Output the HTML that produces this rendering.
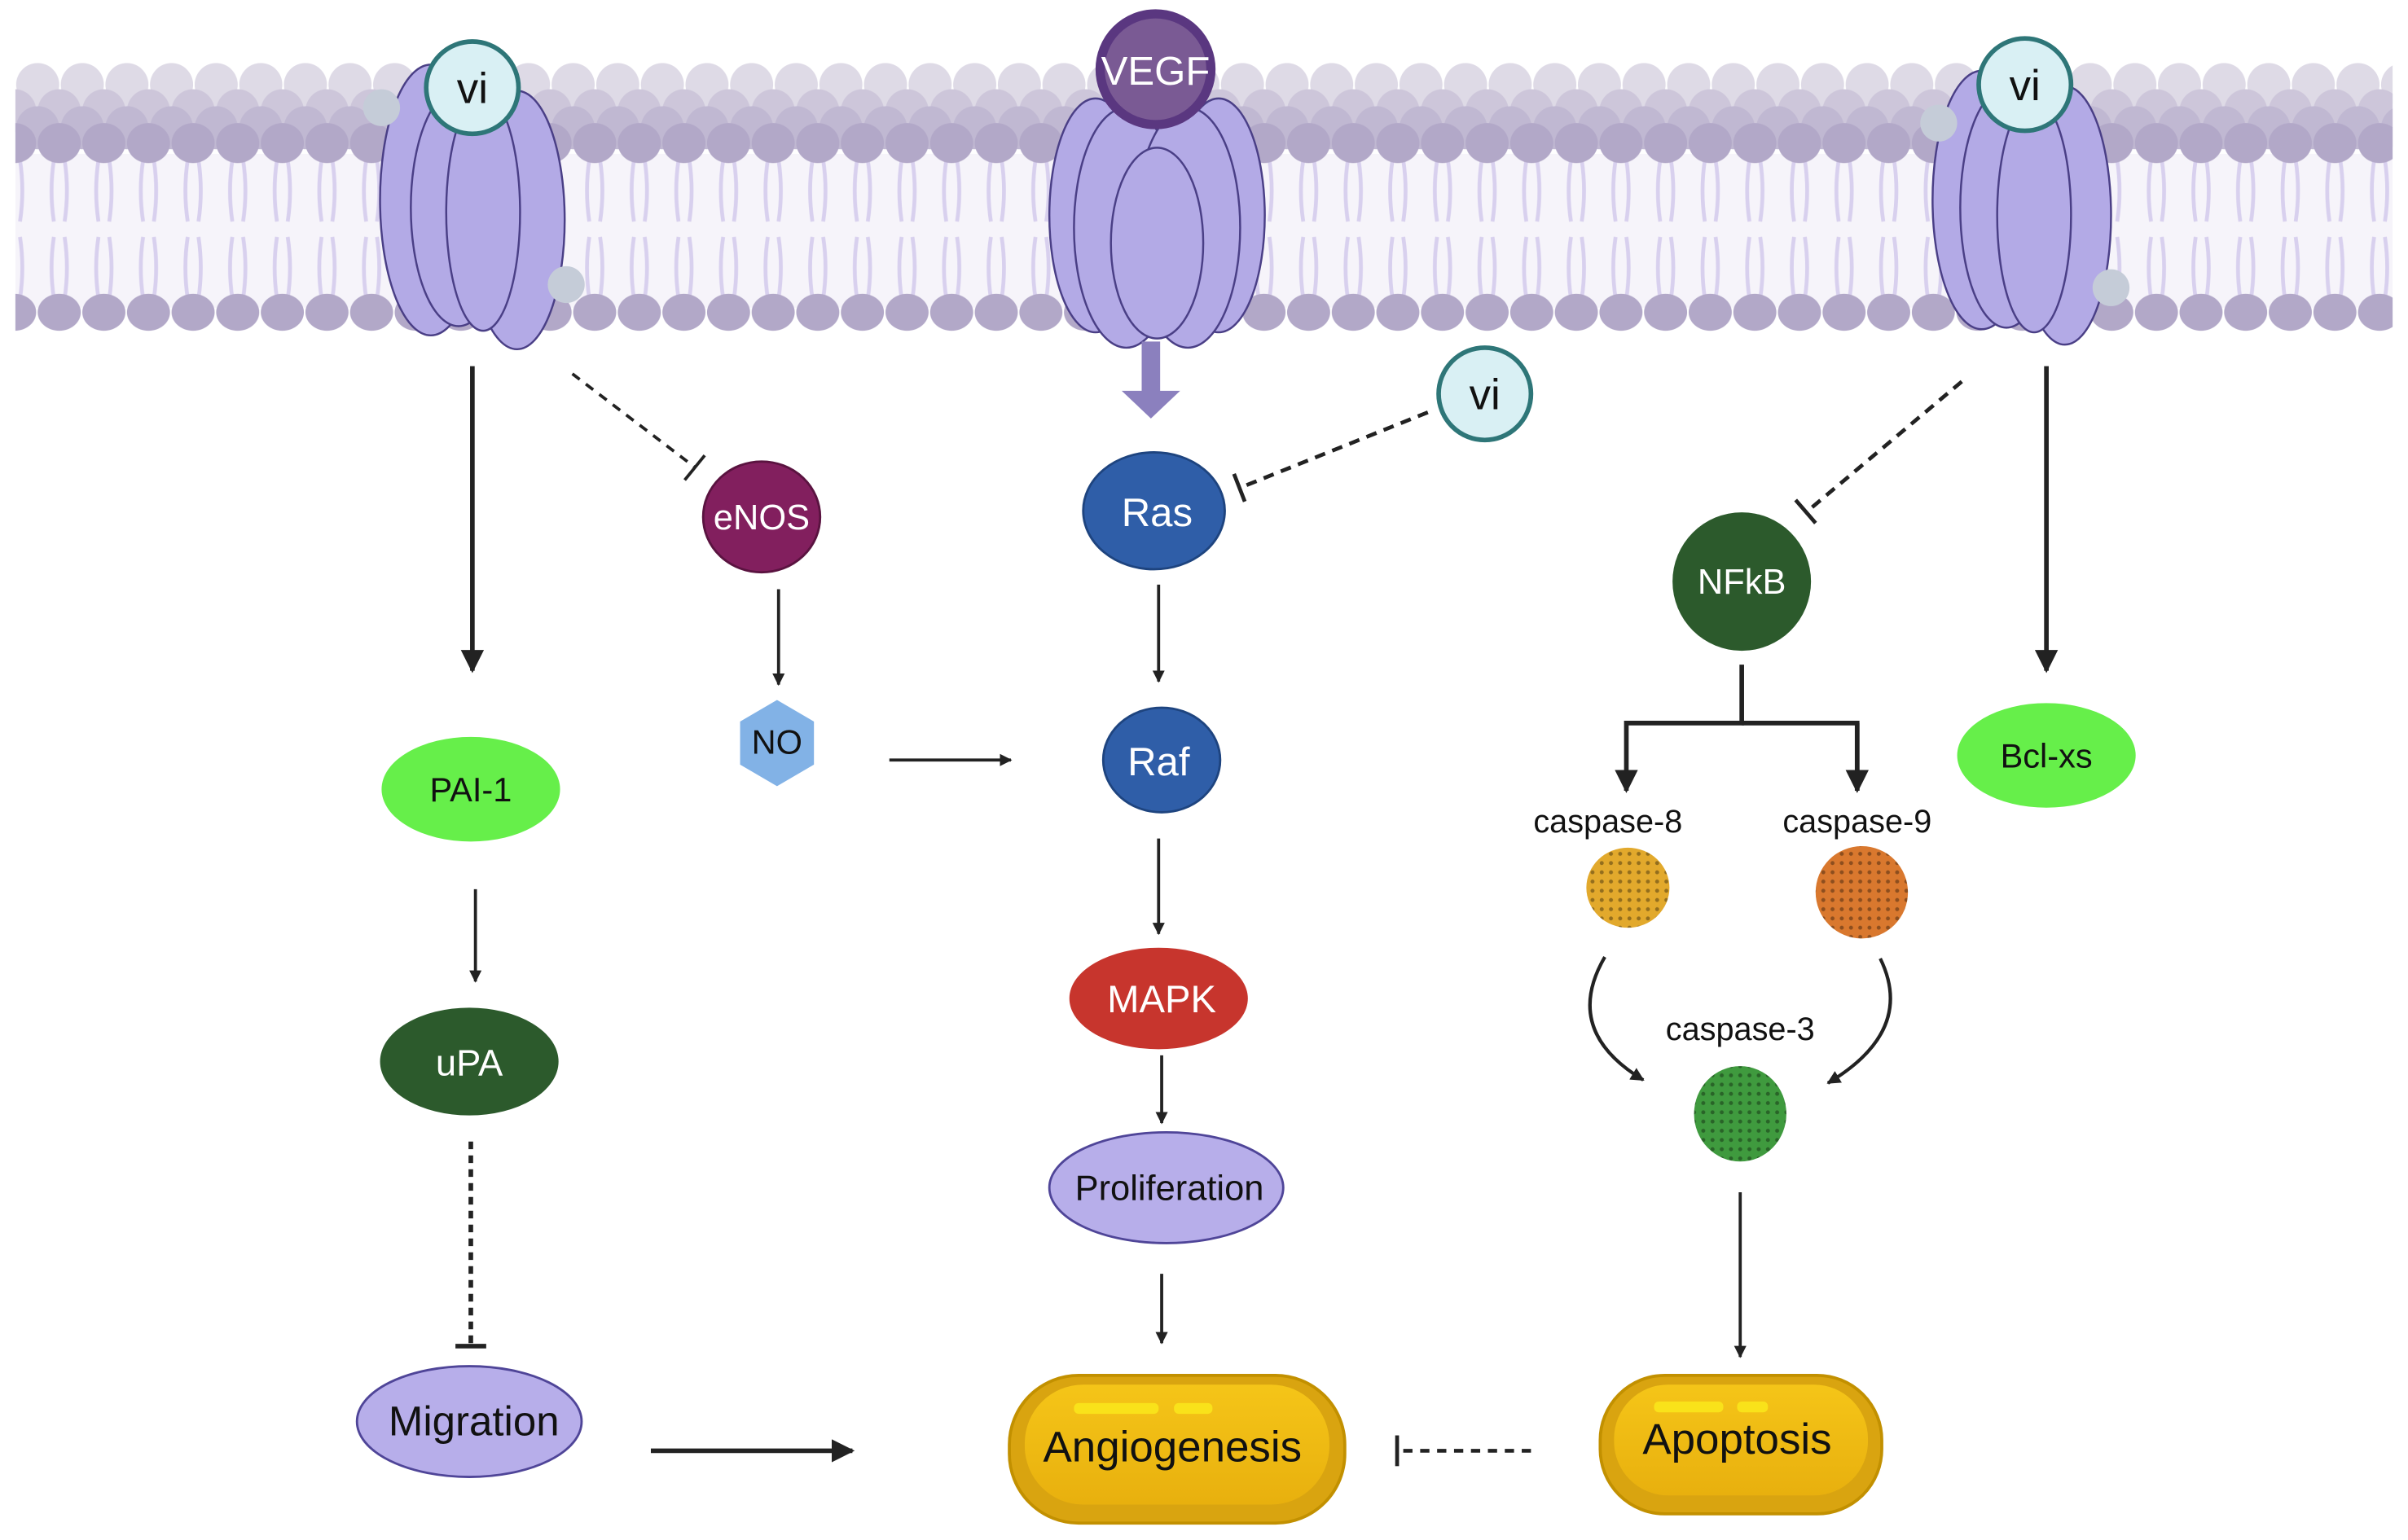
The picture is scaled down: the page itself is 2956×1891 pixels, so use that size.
<!DOCTYPE html>
<html><head><meta charset="utf-8"><style>html,body{margin:0;padding:0;background:#fff}svg{display:block}</style></head>
<body>
<svg width="2956" height="1891" viewBox="0 0 1565 1001" preserveAspectRatio="none" xmlns="http://www.w3.org/2000/svg" font-family="Liberation Sans, sans-serif">
<defs>
<pattern id="hA" width="29" height="30" patternUnits="userSpaceOnUse" x="10" y="40"><circle cx="14.5" cy="15" r="14" fill="#dedae6"/></pattern>
<pattern id="hB" width="29" height="30" patternUnits="userSpaceOnUse" x="24" y="57"><circle cx="14.5" cy="15" r="14" fill="#cdc6da"/></pattern>
<pattern id="hC" width="29" height="30" patternUnits="userSpaceOnUse" x="10" y="68"><circle cx="14.5" cy="15" r="14" fill="#c0b8d2"/></pattern>
<pattern id="hD" width="29" height="26" patternUnits="userSpaceOnUse" x="24" y="80"><ellipse cx="14.5" cy="13" rx="14" ry="13" fill="#b2a8c8"/></pattern>
<pattern id="hE" width="29" height="26" patternUnits="userSpaceOnUse" x="24" y="190"><ellipse cx="14.5" cy="13" rx="14" ry="12" fill="#b2a8c8"/></pattern>
<pattern id="tl" width="29" height="90" patternUnits="userSpaceOnUse" x="24" y="104">
<path d="M11 0 Q8 20 11 40 M18 0 Q21 20 18 40 M11 50 Q8 70 11 90 M18 50 Q21 70 18 90" stroke="#d8d0ee" stroke-width="2.5" fill="none"/></pattern>
<pattern id="dots" width="6" height="6" patternUnits="userSpaceOnUse"><circle cx="3" cy="3" r="1.3" fill="#000" opacity="0.35"/></pattern>
<linearGradient id="gold" x1="0" y1="0" x2="0" y2="1"><stop offset="0" stop-color="#f5c518"/><stop offset="1" stop-color="#e8b00e"/></linearGradient>
<marker id="ar" viewBox="0 0 10 10" refX="9" refY="5" markerWidth="5" markerHeight="5" orient="auto"><path d="M0 0L10 5L0 10z" fill="#222"/></marker>
<marker id="ar2" viewBox="0 0 10 10" refX="9" refY="5" markerWidth="4" markerHeight="4" orient="auto"><path d="M0 0L10 5L0 10z" fill="#222"/></marker>
</defs>
<!-- membrane -->
<rect x="10" y="100" width="1545" height="100" fill="#f6f4fa"/>
<rect x="10" y="104" width="1545" height="90" fill="url(#tl)"/>
<rect x="10" y="40" width="1545" height="30" fill="url(#hA)"/>
<rect x="10" y="57" width="1545" height="30" fill="url(#hB)"/>
<rect x="10" y="68" width="1545" height="30" fill="url(#hC)"/>
<rect x="10" y="80" width="1545" height="26" fill="url(#hD)"/>
<rect x="10" y="190" width="1545" height="26" fill="url(#hE)"/>

<!-- receptor 1 -->
<g stroke="#4a3f86" stroke-width="1.3" fill="#b3aae6">
<ellipse cx="280" cy="130" rx="33" ry="88"/><ellipse cx="336" cy="143" rx="31" ry="84"/>
<ellipse cx="298" cy="135" rx="31" ry="77"/><ellipse cx="314" cy="138" rx="24" ry="77"/>
</g>
<circle cx="248" cy="70" r="12" fill="#c5ccd8"/><circle cx="368" cy="185" r="12" fill="#c5ccd8"/>
<circle cx="307" cy="57" r="30" fill="#d9f0f4" stroke="#2e7678" stroke-width="3"/>
<text x="307" y="67" font-size="28" text-anchor="middle" fill="#111">vi</text>

<!-- receptor 2 -->
<g stroke="#4a3f86" stroke-width="1.3" fill="#b3aae6">
<ellipse cx="712" cy="140" rx="30" ry="76"/><ellipse cx="792" cy="140" rx="30" ry="76"/>
<ellipse cx="732" cy="148" rx="34" ry="78"/><ellipse cx="772" cy="148" rx="34" ry="78"/>
<ellipse cx="752" cy="158" rx="30" ry="62"/>
</g>
<circle cx="751" cy="45" r="36" fill="#7a5a94" stroke="#5a3780" stroke-width="6"/>
<text x="751" y="55" font-size="26" text-anchor="middle" fill="#fff">VEGF</text>
<rect x="742" y="222" width="12" height="36" fill="#8b80be"/>
<path d="M729 254 L767 254 L748 272 Z" fill="#8b80be"/>

<!-- receptor 3 -->
<g stroke="#4a3f86" stroke-width="1.3" fill="#b3aae6">
<ellipse cx="1288" cy="130" rx="32" ry="84"/><ellipse cx="1342" cy="140" rx="30" ry="84"/>
<ellipse cx="1304" cy="135" rx="30" ry="78"/><ellipse cx="1322" cy="140" rx="24" ry="76"/>
</g>
<circle cx="1260" cy="80" r="12" fill="#c5ccd8"/><circle cx="1372" cy="187" r="12" fill="#c5ccd8"/>
<circle cx="1316" cy="55" r="30" fill="#d9f0f4" stroke="#2e7678" stroke-width="3"/>
<text x="1316" y="65" font-size="28" text-anchor="middle" fill="#111">vi</text>

<!-- vi free -->
<circle cx="965" cy="256" r="30" fill="#d9f0f4" stroke="#2e7678" stroke-width="3"/>
<text x="965" y="266" font-size="28" text-anchor="middle" fill="#111">vi</text>

<!-- connectors -->
<g stroke="#222" fill="none">
<line x1="307" y1="238" x2="307" y2="436" stroke-width="3" marker-end="url(#ar)"/>
<line x1="372" y1="243" x2="452" y2="304" stroke-width="2" stroke-dasharray="6 5"/>
<line x1="445" y1="312" x2="458" y2="296" stroke-width="2"/>
<line x1="506" y1="383" x2="506" y2="445" stroke-width="2" marker-end="url(#ar2)"/>
<line x1="578" y1="494" x2="657" y2="494" stroke-width="2" marker-end="url(#ar2)"/>
<line x1="928" y1="268" x2="806" y2="317" stroke-width="2.5" stroke-dasharray="7 5"/>
<line x1="802" y1="308" x2="809" y2="326" stroke-width="2.5"/>
<line x1="753" y1="380" x2="753" y2="443" stroke-width="2" marker-end="url(#ar2)"/>
<line x1="753" y1="545" x2="753" y2="607" stroke-width="2" marker-end="url(#ar2)"/>
<line x1="755" y1="686" x2="755" y2="730" stroke-width="2" marker-end="url(#ar2)"/>
<line x1="755" y1="828" x2="755" y2="873" stroke-width="2" marker-end="url(#ar2)"/>
<line x1="309" y1="578" x2="309" y2="638" stroke-width="2" marker-end="url(#ar2)"/>
<line x1="306" y1="742" x2="306" y2="873" stroke-width="3" stroke-dasharray="5 4"/>
<line x1="296" y1="875" x2="316" y2="875" stroke-width="3"/>
<line x1="423" y1="943" x2="554" y2="943" stroke-width="3" marker-end="url(#ar)"/>
<line x1="995" y1="943" x2="910" y2="943" stroke-width="2.5" stroke-dasharray="6 5"/>
<line x1="908" y1="933" x2="908" y2="953" stroke-width="2.5"/>
<line x1="1275" y1="248" x2="1175" y2="332" stroke-width="2.5" stroke-dasharray="7 5"/>
<line x1="1167" y1="325" x2="1180" y2="340" stroke-width="2.5"/>
<line x1="1330" y1="238" x2="1330" y2="436" stroke-width="3" marker-end="url(#ar)"/>
<polyline points="1132,432 1132,470 1057,470 1057,514" stroke-width="3" marker-end="url(#ar)"/>
<polyline points="1132,470 1207,470 1207,514" stroke-width="3"/>
<line x1="1207" y1="470" x2="1207" y2="514" stroke-width="3" marker-end="url(#ar)"/>
<path d="M1043 622 Q1015 670 1068 702" stroke-width="2.2" marker-end="url(#ar2)"/>
<path d="M1222 623 Q1245 670 1188 704" stroke-width="2.2" marker-end="url(#ar2)"/>
<line x1="1131" y1="775" x2="1131" y2="882" stroke-width="2" marker-end="url(#ar2)"/>
</g>

<!-- nodes -->
<ellipse cx="495" cy="336" rx="38" ry="36" fill="#821f5e" stroke="#5a1340" stroke-width="1.5"/>
<text x="495" y="344" font-size="23" text-anchor="middle" fill="#fff">eNOS</text>
<polygon points="505,455 529,469 529,497 505,511 481,497 481,469" fill="#82b2e6"/>
<text x="505" y="490" font-size="22" text-anchor="middle" fill="#111">NO</text>
<ellipse cx="750" cy="332" rx="46" ry="38" fill="#2f5ea8" stroke="#1e447f" stroke-width="1.5"/>
<text x="752" y="342" font-size="26" text-anchor="middle" fill="#fff">Ras</text>
<ellipse cx="755" cy="494" rx="38" ry="34" fill="#2f5ea8" stroke="#1e447f" stroke-width="1.5"/>
<text x="753" y="504" font-size="26" text-anchor="middle" fill="#fff">Raf</text>
<ellipse cx="753" cy="649" rx="58" ry="33" fill="#c7352d"/>
<text x="755" y="658" font-size="25" text-anchor="middle" fill="#fff">MAPK</text>
<ellipse cx="758" cy="772" rx="76" ry="36" fill="#b7aeea" stroke="#4f4598" stroke-width="1.5"/>
<text x="760" y="780" font-size="23" text-anchor="middle" fill="#111">Proliferation</text>
<ellipse cx="306" cy="513" rx="58" ry="34" fill="#66ef4a"/>
<text x="306" y="521" font-size="22" text-anchor="middle" fill="#111">PAI-1</text>
<ellipse cx="305" cy="690" rx="58" ry="35" fill="#2c5a2c"/>
<text x="305" y="699" font-size="24" text-anchor="middle" fill="#fff">uPA</text>
<ellipse cx="305" cy="924" rx="73" ry="36" fill="#b7aeea" stroke="#4f4598" stroke-width="1.5"/>
<text x="308" y="933" font-size="27" text-anchor="middle" fill="#111">Migration</text>
<circle cx="1132" cy="378" r="45" fill="#2c5a2c"/>
<text x="1132" y="386" font-size="23" text-anchor="middle" fill="#fff">NFkB</text>
<ellipse cx="1330" cy="491" rx="58" ry="34" fill="#66ef4a"/>
<text x="1330" y="499" font-size="22" text-anchor="middle" fill="#111">Bcl-xs</text>

<text x="1045" y="541" font-size="21" text-anchor="middle" fill="#111">caspase-8</text>
<ellipse cx="1058" cy="577" rx="27" ry="26" fill="#e2a92c"/><ellipse cx="1058" cy="577" rx="27" ry="26" fill="url(#dots)"/>
<text x="1207" y="541" font-size="21" text-anchor="middle" fill="#111">caspase-9</text>
<ellipse cx="1210" cy="580" rx="30" ry="30" fill="#d9782e"/><ellipse cx="1210" cy="580" rx="30" ry="30" fill="url(#dots)"/>
<text x="1131" y="676" font-size="21" text-anchor="middle" fill="#111">caspase-3</text>
<ellipse cx="1131" cy="724" rx="30" ry="31" fill="#3f9a3e"/><ellipse cx="1131" cy="724" rx="30" ry="31" fill="url(#dots)"/>

<!-- phenotype pills -->
<rect x="656" y="894" width="218" height="96" rx="45" fill="#d9a410" stroke="#c29000" stroke-width="2"/>
<rect x="666" y="900" width="198" height="78" rx="38" fill="url(#gold)"/>
<rect x="698" y="912" width="55" height="7" rx="3" fill="#f9e21a"/><rect x="763" y="912" width="25" height="7" rx="3" fill="#f9e21a"/>
<text x="762" y="950" font-size="28" text-anchor="middle" fill="#111">Angiogenesis</text>
<rect x="1040" y="894" width="183" height="90" rx="42" fill="#d9a410" stroke="#c29000" stroke-width="2"/>
<rect x="1049" y="900" width="165" height="72" rx="35" fill="url(#gold)"/>
<rect x="1075" y="911" width="45" height="7" rx="3" fill="#f9e21a"/><rect x="1129" y="911" width="20" height="7" rx="3" fill="#f9e21a"/>
<text x="1129" y="945" font-size="28" text-anchor="middle" fill="#111">Apoptosis</text>
</svg>
</body></html>
